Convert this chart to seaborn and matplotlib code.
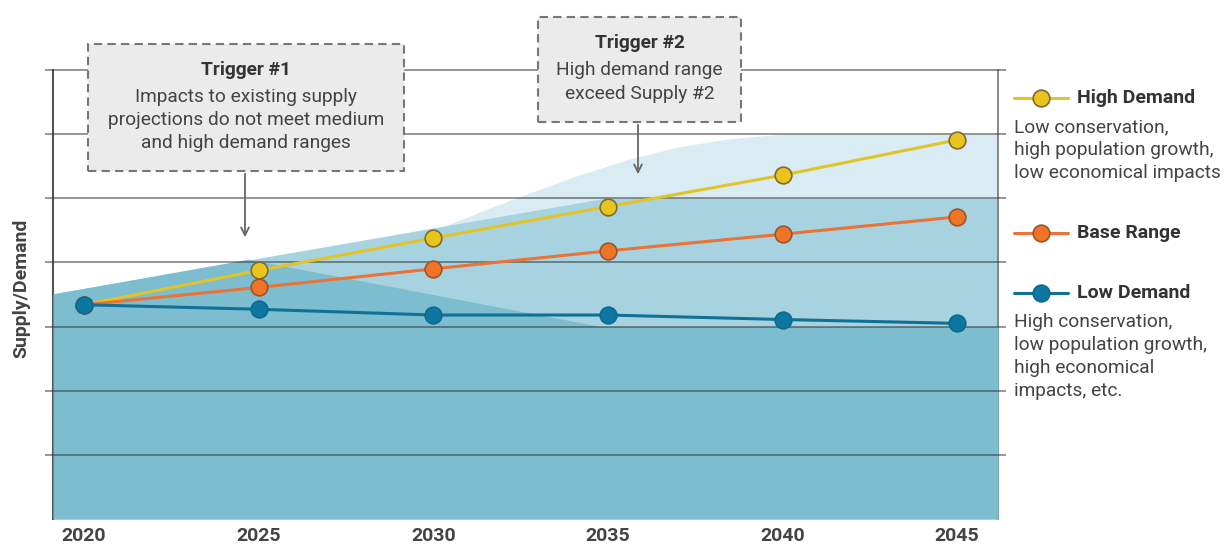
import pandas as pd
import matplotlib
matplotlib.use("Agg")
import matplotlib.pyplot as plt
import seaborn as sns
from matplotlib.patches import Rectangle, FancyArrowPatch
from matplotlib.lines import Line2D

# ================== data ==================
years = [2020, 2025, 2030, 2035, 2040, 2045]
high_demand = [3.34, 3.875, 4.38, 4.87, 5.36, 5.91]
base_range = [3.34, 3.61, 3.90, 4.18, 4.44, 4.71]
low_demand = [3.34, 3.27, 3.18, 3.18, 3.11, 3.05]

# supply areas (existing supply, supply #2, extended supply)
supply1_years = [2019.11, 2024.7, 2034.8, 2046.17]
supply1 = [3.51, 4.05, 3.0, 3.0]
supply2_years = [2019.11, 2034.9, 2046.17]
supply2 = [3.51, 5.0, 5.0]
supply3_years = [2019.11, 2030.2, 2032, 2034, 2035.6, 2037, 2038.5, 2040, 2046.17]
supply3 = [3.51, 4.54, 4.93, 5.33, 5.61, 5.80, 5.93, 6.0, 6.0]

series_names = ["High Demand", "Base Range", "Low Demand"]
line_colors = ["#e2c428", "#ea7436", "#0f7196"]
marker_faces = ["#e9c41e", "#ef7526", "#0e77a1"]
marker_edges = ["#7d6c2c", "#9a5431", "#0d6a8f"]
descriptions = [
    ["Low conservation,", "high population growth,", "low economical impacts"],
    [],
    ["High conservation,", "low population growth,", "high economical", "impacts, etc."],
]

df = pd.DataFrame({
    "year": years * 3,
    "value": high_demand + base_range + low_demand,
    "series": [n for n in series_names for _ in years],
})

# ================== figure ==================
sns.set_theme(style="white")
plt.rcParams["font.family"] = ["Roboto", "DejaVu Sans"]

W, H = 1230, 546
fig = plt.figure(figsize=(W / 100, H / 100), dpi=100)
ax = fig.add_axes([53 / W, 27 / H, 945 / W, 449 / H])


def fp(x, y):
    # pixel position (from top-left) -> figure fraction
    return x / W, 1 - y / H


ax.fill_between(supply3_years, 0, supply3, color="#d9ecf3", lw=0, zorder=1)
ax.fill_between(supply2_years, 0, supply2, color="#a7d3e0", lw=0, zorder=2)
ax.fill_between(supply1_years, 0, supply1, color="#7cbdd0", lw=0, zorder=3)

for v in range(1, 8):
    ax.plot([2018.88, 2046.4], [v, v], color="#333333", alpha=0.6, lw=1.2,
            clip_on=False, zorder=4, solid_capstyle="butt")

for name, lc, mf, me in zip(series_names, line_colors, marker_faces, marker_edges):
    sns.lineplot(data=df[df["series"] == name], x="year", y="value", ax=ax,
                 color=lc, linewidth=2.2, marker="o", markersize=12,
                 markerfacecolor=mf, markeredgecolor=me, markeredgewidth=1.2,
                 zorder=6)

ax.set_xlim(2019.11, 2046.17)
ax.set_ylim(0, 7)
ax.set_yticks([])
ax.set_xticks(years)
ax.set_xticklabels([str(y) for y in years], fontsize=14, fontweight="bold", color="#444444")
ax.tick_params(axis="x", length=0, pad=6)
ax.set_xlabel("")
ax.set_ylabel("")
for s in ["top", "bottom"]:
    ax.spines[s].set_visible(False)
ax.spines["left"].set_color("#555555")
ax.spines["left"].set_linewidth(1.5)
ax.spines["right"].set_color("#777777")
ax.spines["right"].set_linewidth(1.2)
ax.set_facecolor("white")

fig.text(*fp(21, 288), "Supply/Demand", rotation=90, ha="center", va="center",
         fontsize=14, fontweight="bold", color="#444444")

# ================== trigger boxes ==================
boxes = [
    (88, 44, 404, 171, "Trigger #1",
     ["Impacts to existing supply", "projections do not meet medium", "and high demand ranges"],
     70, [97, 120, 143], 245, 240),
    (538, 17, 741, 122, "Trigger #2",
     ["High demand range", "exceed Supply #2"],
     43, [70, 94], 638, 177),
]
for x0, y0, x1, y1, title, lines, ty, lys, ax_x, ax_y in boxes:
    fx0, fy1 = fp(x0, y1)
    fx1, fy0 = fp(x1, y0)
    fig.add_artist(Rectangle((fx0, fy1), fx1 - fx0, fy0 - fy1, transform=fig.transFigure,
                             facecolor="#ebebeb", edgecolor="#777777", lw=1.5,
                             ls=(0, (4, 2.5)), zorder=10))
    cx = (x0 + x1) / 2
    fig.text(*fp(cx, ty), title, ha="center", va="center", fontsize=13.8,
             fontweight="bold", color="#333333", zorder=11)
    for ln, ly in zip(lines, lys):
        fig.text(*fp(cx, ly), ln, ha="center", va="center", fontsize=13.8,
                 color="#444444", zorder=11)
    fig.add_artist(FancyArrowPatch(fp(ax_x, y1), fp(ax_x, ax_y), transform=fig.transFigure,
                                   arrowstyle="->", mutation_scale=14, color="#666666",
                                   lw=1.3, zorder=11))

# ================== legend on the right ==================
legend_y = [98, 233, 293]
desc_start = [127, None, 322]
for name, lc, mf, me, ly, descs, dy in zip(series_names, line_colors, marker_faces,
                                         marker_edges, legend_y, descriptions, desc_start):
    (lx0, fy), (lx1, _) = fp(1014, ly), fp(1068, ly)
    fig.add_artist(Line2D([lx0, lx1], [fy, fy], color=lc, lw=2.2, transform=fig.transFigure))
    fig.add_artist(Line2D([fp(1041, ly)[0]], [fy], marker="o", ms=12, mfc=mf, mec=me,
                          mew=1.2, transform=fig.transFigure))
    fig.text(*fp(1077, ly), name, ha="left", va="center", fontsize=14,
             fontweight="bold", color="#333333")
    for i, d in enumerate(descs):
        fig.text(*fp(1014, dy + i * 23), d, ha="left", va="center", fontsize=13.8,
                 color="#444444")

fig.savefig("out.png", dpi=100)
